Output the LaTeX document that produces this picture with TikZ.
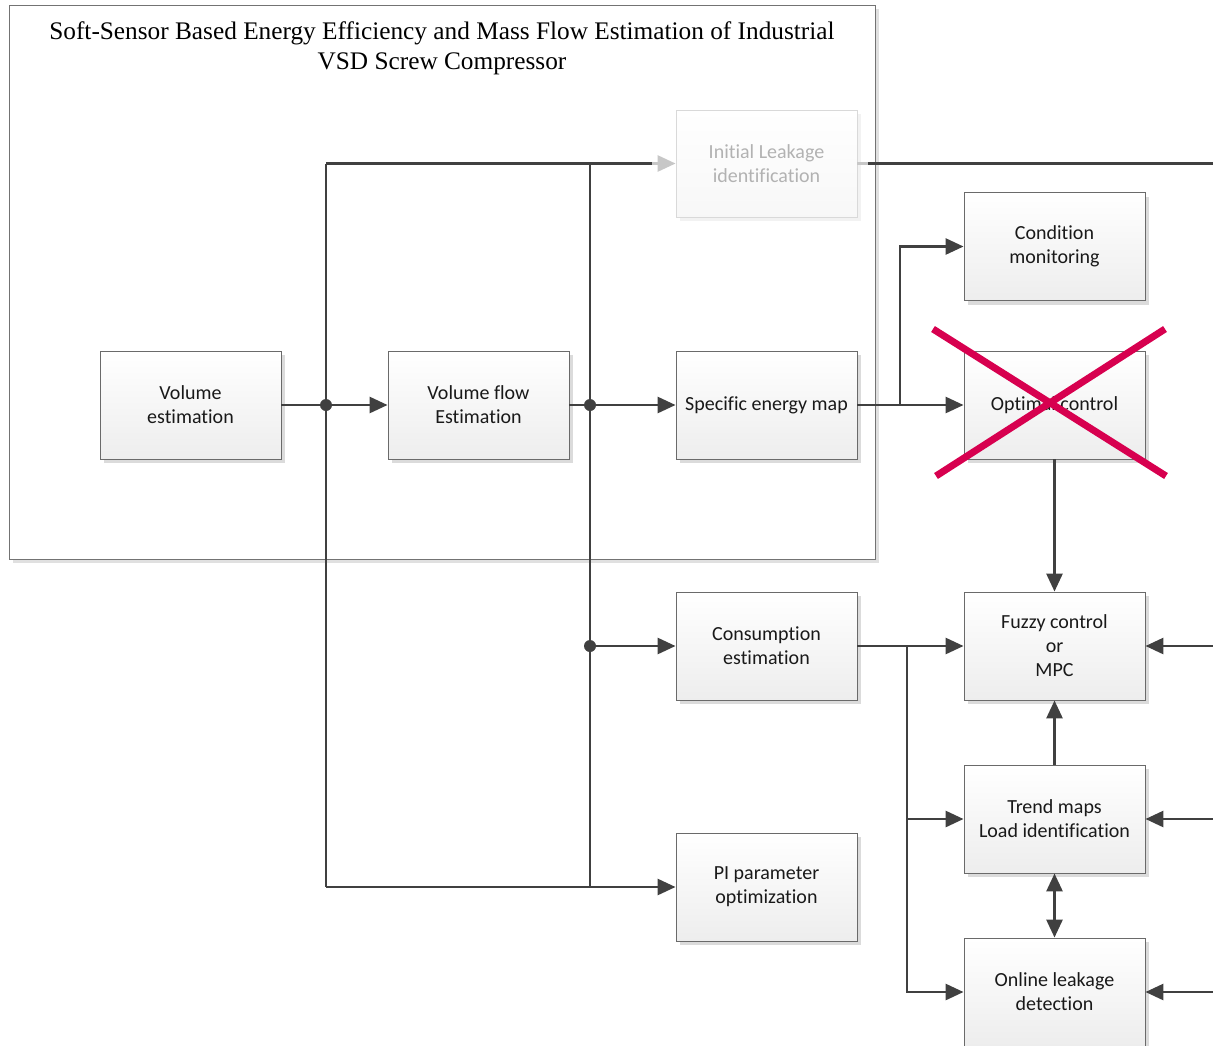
\documentclass[tikz,border=0pt]{standalone}
\usepackage{fontspec}
\setmainfont{Carlito}[Ligatures=NoCommon, RawFeature={-clig;-dlig}]
\newfontfamily\titlefont{Liberation Serif}
\usetikzlibrary{arrows.meta,shadows}
\definecolor{linec}{HTML}{404040}
\definecolor{boxborder}{HTML}{6A6A6A}
\definecolor{crossc}{HTML}{D7004F}
\tikzset{
  blockbox/.style={draw=boxborder, line width=0.9pt, top color=white, bottom color=black!7,
    minimum width=181pt, minimum height=108pt, align=center, inner sep=2pt,
    font=\fontsize{20}{24}\selectfont, text=black!90,
    drop shadow={shadow xshift=4pt, shadow yshift=-4pt, fill=black!14, opacity=1}},
  ghostbox/.style={draw=black!15, line width=0.9pt, top color=white, bottom color=black!3,
    minimum width=181pt, minimum height=107pt, align=center, inner sep=2pt,
    font=\fontsize{20}{24}\selectfont, text=black!30,
    drop shadow={shadow xshift=4pt, shadow yshift=-4pt, fill=black!5, opacity=1}},
  framebox/.style={draw=black!55, line width=0.9pt, fill=white, minimum width=866pt, minimum height=554pt,
    drop shadow={shadow xshift=4pt, shadow yshift=-4pt, fill=black!12, opacity=1}},
  conn/.style={draw=linec, line width=2.8pt},
  arr/.style={conn, -{Triangle[length=18pt,width=16pt]}},
  darr/.style={conn, {Triangle[length=18pt,width=16pt]}-{Triangle[length=18pt,width=16pt]}},
  ghostarr/.style={draw=black!22, line width=2.8pt, -{Triangle[length=18pt,width=16pt]}},
  ghostline/.style={draw=black!22, line width=2.8pt},
  jdot/.style={circle, fill=linec, inner sep=0pt, minimum size=12pt},
  crossline/.style={draw=crossc, line width=7pt},
}
\begin{document}
\begin{tikzpicture}[x=1pt,y=-1pt]
\useasboundingbox (0,0) rectangle (1213,1045);
% frame
\node[framebox] (frame) at (442,282) {};
\node[font=\titlefont\fontsize{25.3}{30}\selectfont, align=center, text=black] (title) at (442,48)
  {Soft-Sensor Based Energy Efficiency and Mass Flow Estimation of Industrial\\VSD Screw Compressor};
% boxes
\node[blockbox] (vol) at (190.5,405) {Volume\\estimation};
\node[blockbox] (vflow) at (478.5,405) {Volume flow\\Estimation};
\node[blockbox] (sem) at (766.5,405) {Specific energy map};
\node[ghostbox] (leak) at (766.5,163.5) {Initial Leakage\\identification};
\node[blockbox] (cond) at (1054.5,246.5) {Condition\\monitoring};
\node[blockbox] (opt) at (1054.5,405) {Optimal control};
\node[blockbox] (fuzzy) at (1054.5,646) {Fuzzy control\\or\\MPC};
\node[blockbox] (trend) at (1054.5,819) {Trend maps\\Load identification};
\node[blockbox] (online) at (1054.5,992) {Online leakage\\detection};
\node[blockbox] (cons) at (766.5,646) {Consumption\\estimation};
\node[blockbox] (pi) at (766.5,887) {PI parameter\\optimization};
% coordinates
\coordinate (aTop) at (326,163.5);
\coordinate (aBot) at (326,887);
\coordinate (bTop) at (590,163.5);
\coordinate (bBot) at (590,887);
\coordinate (gStart) at (652,163.5);
\coordinate (gEnd) at (868,163.5);
\coordinate (rEdge) at (1213,163.5);
\coordinate (cBr) at (900,405);
\coordinate (cUp) at (900,246.5);
\coordinate (dBr) at (907,646);
\coordinate (dMid) at (907,819);
\coordinate (dBot) at (907,992);
\coordinate (eF) at (1213,646);
\coordinate (eT) at (1213,819);
\coordinate (eO) at (1213,992);
% verticals
\draw[conn] (aTop) -- (aBot);
\draw[conn] (bTop) -- (bBot);
\draw[conn] (aTop) -- (gStart);
\draw[ghostarr] (gStart) -- (leak.west);
\draw[ghostline] (leak.east) -- (gEnd);
\draw[conn] (gEnd) -- (rEdge);
\draw[arr] (aBot) -- (pi.west);
% main chain
\draw[arr] (vol.east) -- (vflow.west);
\draw[arr] (vflow.east) -- (sem.west);
\draw[arr] (sem.east) -- (opt.west);
\draw[arr] (cBr) -- (cUp) -- (cond.west);
\draw[arr] (590,646) -- (cons.west);
\draw[arr] (opt.south) -- (fuzzy.north);
\draw[arr] (cons.east) -- (fuzzy.west);
\draw[arr] (dBr) -- (dBot) -- (online.west);
\draw[arr] (dMid) -- (trend.west);
\draw[arr] (trend.north) -- (fuzzy.south);
\draw[darr] (trend.south) -- (online.north);
\draw[arr] (eF) -- (fuzzy.east);
\draw[arr] (eT) -- (trend.east);
\draw[arr] (eO) -- (online.east);
% junction dots
\node[jdot] (j1) at (326,405) {};
\node[jdot] (j2) at (590,405) {};
\node[jdot] (j3) at (590,646) {};
% cross
\coordinate (x1) at (933,329);
\coordinate (x2) at (1166,476);
\coordinate (x3) at (1165,329);
\coordinate (x4) at (936,476);
\draw[crossline] (x1) -- (x2);
\draw[crossline] (x3) -- (x4);
\end{tikzpicture}
\end{document}
